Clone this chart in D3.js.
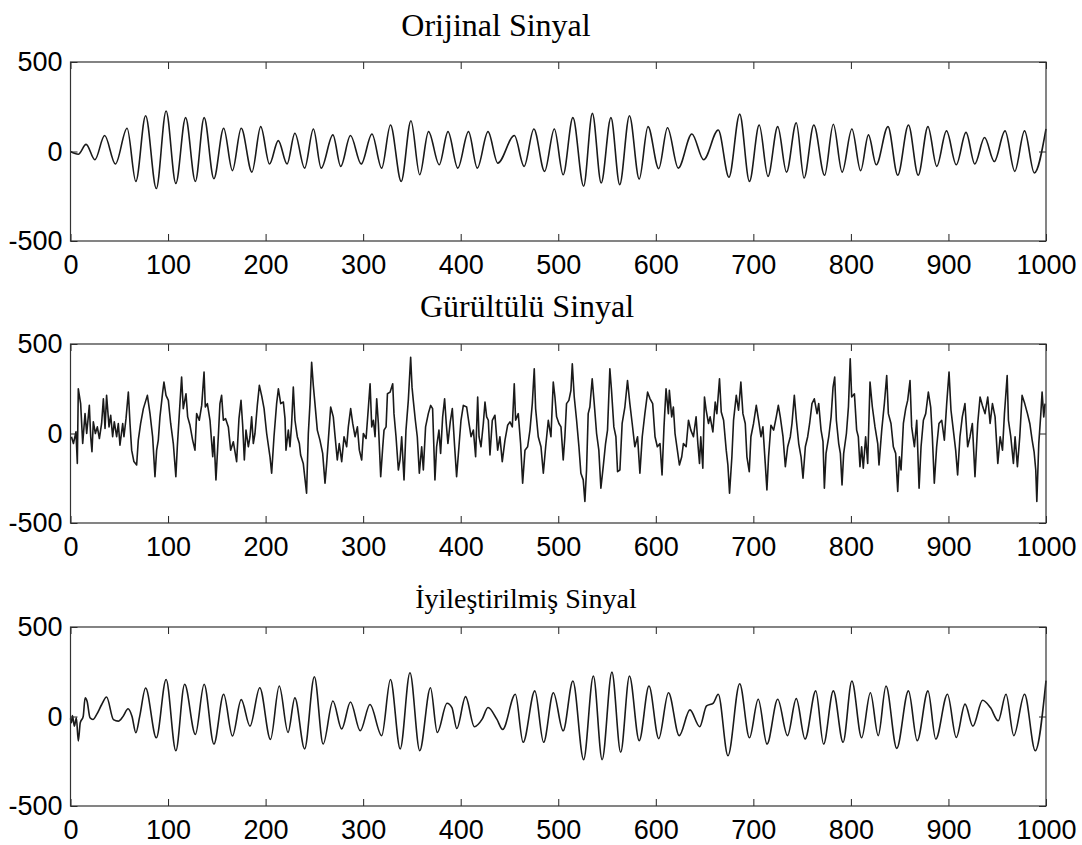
<!DOCTYPE html>
<html lang="tr">
<head>
<meta charset="UTF-8">
<title>Sinyaller</title>
<script src="https://cdnjs.cloudflare.com/ajax/libs/d3/7.8.5/d3.min.js"></script>
<style>
    body { margin: 0; background: #fff; }
    .tick text { font-family: "Liberation Sans", Arial, sans-serif; font-size: 27px; fill: #000; }
    .tick line { stroke: #222; }
    .title { font-family: "Liberation Serif", "Times New Roman", serif; fill: #000; }
    .frame { fill: none; stroke: #333; stroke-width: 1.2; }
    .sig { fill: none; stroke: #1a1a1a; stroke-width: 1.6; stroke-linejoin: round; }
</style>
</head>
<body>
<svg id="main" width="1082" height="845"></svg>
<script>
// titles and tick labels
const titles = ['Orijinal Sinyal', 'Gürültülü Sinyal', 'İyileştirilmiş Sinyal'];
const xTicks = [0, 100, 200, 300, 400, 500, 600, 700, 800, 900, 1000];
const yTicks = [-500, 0, 500];

// original signal (peaks / troughs)
const origX = [0,8,16,25,35,46,58,67,77,88,98,108,118,128,137,147,157,166,175,186,
    195,204,213,222,230,240,249,257,269,277,287,298,309,319,328,339,349,358,367,378,
    387,397,408,417,428,438,455,465,475,486,496,505,515,526,535,544,554,563,573,583,
    592,603,612,623,637,649,664,675,686,696,706,715,725,734,744,752,762,773,782,791,
    801,810,818,826,838,848,859,869,879,888,898,908,918,927,937,947,958,968,978,988,1000];
const origY = [0,-15,40,-46,89,-70,130,-167,200,-207,226,-178,189,-167,189,-152,130,-107,130,-115,
    139,-70,61,-70,102,-93,126,-93,93,-83,89,-70,98,-93,148,-167,172,-130,111,-74,
    111,-93,111,-93,111,-65,89,-83,126,-111,126,-130,189,-194,213,-176,189,-185,200,-154,
    139,-96,133,-93,98,-46,120,-144,209,-167,148,-139,139,-115,161,-148,148,-133,152,-115,
    126,-107,93,-74,139,-133,148,-133,139,-83,115,-74,107,-70,78,-56,115,-111,115,-120,126];

// noisy signal
const noisyX = [1,3,5.6,7,8,10.4,12.5,14.9,16.6,19.3,20.7,22,23.4,25.5,27.5,29.6,31.9,33.7,35.4,37,
    39.5,41.2,43.2,44.9,47.3,49,50.7,53.5,54.8,56.9,59.3,61,62.7,65,67.8,69.5,71.9,74.7,78.8,81.5,
    84.2,86.6,88.3,90,91.7,94.5,95.8,97.9,100.3,102.7,105.4,108,109.5,112.2,113.9,115.6,118.4,120.1,122.5,125.2,
    127.6,129.3,132,134.5,136.9,138.2,140.3,143,145.8,147.1,149.1,151.5,153.2,154.9,156.7,159,161.8,164.2,166.9,170.3,
    172.7,174.8,176.5,178.2,179.9,182.3,184,185.7,187.4,189.1,191.5,193.6,196,198.4,201.1,204.5,206.2,208.6,211.3,213.1,
    215.5,218.2,219.9,220.9,223.3,225,226.7,228.4,230.1,232.5,234.6,235.9,238.6,242,243.8,245.5,247.2,248.9,250.6,253,
    255.7,258.5,260.9,262.6,264.3,266.7,269.4,271.1,273.5,275.5,278,280.4,283.1,284.8,287.2,289.3,291.7,294.1,296.1,298.5,
    300.2,303,305.4,307.1,308.8,310.5,312.2,313.9,315.6,318,320.1,321.4,323.5,324.9,327.6,330.3,331.6,333.7,336.1,337.8,
    339.5,341.9,343.9,346.3,348.7,350.1,351.4,353.5,355.5,357.6,360,361.7,364,366.8,369.2,371.2,373.6,375.3,377.7,379.4,
    381.5,383.5,385.2,386.9,389.3,391.4,393.8,395.8,398.2,400.3,402.7,406.1,408.5,410.6,413,415.3,417.4,418.8,420.8,423.2,
    424.9,426.6,428.3,430,432.4,435.1,437.9,440.2,442.6,445.4,448.1,450.5,452.9,454.9,456.3,459,461.4,463.5,465.9,468.6,
    471,473.4,475.4,476.8,479.5,482.3,484.7,487.1,489.8,492.5,494.9,496.6,498.3,500.7,502.8,505.1,506.8,508.5,510.9,513,
    514.4,516.4,518.8,521.2,523.2,525.6,527.3,529,530.7,532.4,534.8,536.9,539.3,541.6,543.7,546.1,548.5,550.5,552.9,554.6,
    557,559.1,560.8,563.2,565.5,568.3,571,573.4,575.8,578.5,581.3,583.7,586.1,588.8,591.6,594,596.8,599.2,601.6,604.3,
    606.4,608.4,610.5,612.9,613.9,616.3,618,619.7,622.1,624.2,626.6,628.3,631.1,633.5,635.9,638.6,641.3,643.1,644.8,646.1,
    648.2,649.9,651.6,654,655.7,658.5,660.9,662.6,665.3,667.1,669.5,672.2,673.9,675.6,678,679.7,682.5,684.8,687.2,689.3,
    691.7,693.4,695.8,697.5,700.2,703,705.4,707.8,709.8,712.2,713.9,715.6,718,720.8,723.5,725.6,727.6,730.4,732.8,735.2,
    737.9,739.6,742,744.1,746.5,748.9,750.9,753.3,755.7,757.7,760.1,762.5,765.3,767,769.4,771.4,772.8,774.5,777.3,779.7,
    781.7,783.4,785.1,787.5,789.2,790.9,792.6,795.4,797.5,799.3,800.8,803.6,805.9,807.6,809.3,811,812.7,815.1,817.2,819.6,
    822,824.7,827.5,828.8,831.6,834.3,836.7,838.4,841.1,843.5,845.9,848,849.7,851.4,853.8,856.2,858.2,860.6,862.3,865.1,
    867.5,869.9,871.9,874.3,876.7,879.4,881.8,883.5,885.5,887.9,890.3,893.1,895.8,898.2,900.6,902.6,905,907.4,909.4,911.8,
    914.2,916.9,919.7,922.1,924.5,927.2,930,932.4,934.8,937.5,940.3,942.7,945.1,947.8,950.6,953,955.4,957.4,960.2,961.5,
    963.9,966.6,968.3,970.7,973.1,975.5,978.2,981,983.4,985.8,987.8,989.5,990.6,992.6,994.7,996,997.7,999];
const noisyY = [-18,-56,9,-167,250,167,-56,111,0,157,-18,-102,65,0,37,-28,56,194,28,213,
    37,102,-18,65,-18,56,-65,56,-18,83,231,56,-93,-157,-176,-37,56,139,213,111,
    -18,-241,-93,-37,93,231,287,213,185,56,-56,-241,-74,167,315,139,222,93,46,-37,
    -93,111,74,157,343,148,167,74,-130,-18,-259,-18,167,213,74,83,37,-93,-46,-157,
    83,185,46,-148,19,-74,-18,93,-56,0,157,269,210,140,0,-130,-222,-18,167,250,
    167,176,83,-93,19,-74,56,259,74,-18,-56,-120,-167,-333,0,167,398,269,167,19,
    -37,-111,-278,-167,-37,148,93,-9,-148,-56,-157,-18,-74,37,139,56,-18,37,-93,-148,
    0,-28,148,278,37,74,-18,194,56,-241,-74,19,37,222,231,278,111,-18,-204,-148,
    -18,-259,19,185,426,259,185,74,-18,-222,-74,-204,37,111,157,139,-259,-74,19,-111,
    93,194,56,-56,65,139,-74,-241,-74,74,157,148,56,-18,19,-130,204,-18,-74,56,
    176,93,74,-120,74,102,-93,-18,-157,-37,46,65,37,278,74,111,-56,-278,-93,-74,
    19,167,361,139,-18,-74,-222,-74,74,-18,287,204,93,56,37,-148,-18,167,185,241,
    389,204,74,-74,-222,-259,-380,-204,111,148,306,167,0,-93,-306,-185,-56,19,361,241,
    37,-18,-213,-204,56,148,296,167,56,-74,-18,-222,-18,111,231,195,167,-18,-74,-56,
    -231,37,250,111,241,93,148,0,-93,-176,-130,-56,-74,74,19,-18,93,-56,-167,-18,
    -194,204,130,56,93,9,176,111,306,120,74,-93,-176,-333,-130,74,213,130,287,111,
    56,-130,-213,-18,56,157,74,-18,37,-167,-315,-130,46,19,93,157,93,-18,-185,-74,
    -18,56,213,74,-56,-130,-250,-74,-18,56,167,194,111,167,19,-46,-306,-111,-18,93,
    259,315,74,-56,-111,-287,-111,0,150,417,204,222,19,-18,-185,-74,-194,-18,-167,287,
    148,37,-56,-176,19,167,324,111,56,-74,-111,-324,-130,-204,56,139,185,296,37,-74,
    74,-306,-74,74,111,231,148,-18,-278,-74,56,74,-37,167,343,130,19,-93,-231,-18,
    93,167,-74,-18,56,-241,56,204,157,111,204,56,167,93,-167,-18,-93,111,324,74,
    -18,-167,-18,-185,-18,213,167,111,56,-37,-102,-204,-380,-56,111,231,93,167];

// enhanced signal
const enhX = [0,1,2,4,6,8,10,13,15,17,20,23,27,32,37,44,49,54,59,63,
    67,71,77,88,98,108,117,128,137,147,157,166,175,184,194,205,214,223,230,240,
    250,259,269,278,287,297,307,319,328,338,348,358,369,376,386,391,396,405,414,422,
    428,437,443,456,464,476,485,495,505,515,526,536,545,555,564,573,583,593,603,613,
    624,635,645,652,659,664,674,686,696,705,714,725,735,744,753,764,772,782,792,801,
    811,820,828,836,847,859,868,879,887,899,908,917,925,935,943,951,959,967,978,989,1000];
const enhY = [-10,-35,6,-54,-7,-137,-35,0,104,85,-7,-17,13,67,109,-17,-26,2,43,2,
    -91,2,159,-119,207,-191,180,-100,180,-154,124,-109,94,-54,161,-128,170,-89,104,-181,
    222,-154,87,-70,81,-80,67,-107,207,-181,244,-191,161,-89,74,50,-67,111,-57,-15,
    50,-15,-72,124,-144,143,-144,133,-80,198,-241,226,-241,248,-200,226,-135,170,-124,133,
    -107,37,-57,59,75,124,-219,183,-119,96,-154,96,-107,100,-126,143,-154,143,-144,198,
    -119,133,-107,170,-178,143,-135,143,-126,124,-117,69,-54,91,50,-24,124,-107,124,-191,200];

const svg = d3.select('svg#main');
const left = 70.5, right = 1046, plotH = 179;
const panelTops = [62, 344, 627];
const titlePos = [[496, 36], [527, 317], [526, 608]];
const titleSize = [32, 32, 28];

const panels = [
    {title: titles[0], xs: origX, ys: origY, curve: d3.curveMonotoneX},
    {title: titles[1], xs: noisyX, ys: noisyY, curve: d3.curveLinear},
    {title: titles[2], xs: enhX, ys: enhY, curve: d3.curveMonotoneX}
];

const x = d3.scaleLinear().domain([0, 1000]).range([left, right]);
const fmt = function(d) { return String(d); };

panels.forEach(function(p, i) {
    const top = panelTops[i];
    const y = d3.scaleLinear().domain([-500, 500]).range([top + plotH, top]);
    const g = svg.append('g');

    // signal
    const pts = p.xs.map(function(d, k) { return [d, p.ys[k]]; });
    const line = d3.line()
        .x(function(d) { return x(d[0]); })
        .y(function(d) { return y(d[1]); })
        .curve(p.curve);
    g.append('path').attr('class', 'sig').attr('d', line(pts));

    // axes, ticks pointing inward
    g.append('g').attr('transform', 'translate(0,' + (top + plotH) + ')')
        .call(d3.axisBottom(x).tickValues(xTicks).tickFormat(fmt)
            .tickSizeInner(-7).tickSizeOuter(0).tickPadding(14));
    g.append('g').attr('transform', 'translate(0,' + top + ')')
        .call(d3.axisTop(x).tickValues(xTicks).tickSizeInner(-7).tickSizeOuter(0).tickFormat(''));
    g.append('g').attr('transform', 'translate(' + left + ',0)')
        .call(d3.axisLeft(y).tickValues(yTicks).tickFormat(fmt)
            .tickSizeInner(-7).tickSizeOuter(0).tickPadding(8));
    g.append('g').attr('transform', 'translate(' + right + ',0)')
        .call(d3.axisRight(y).tickValues(yTicks).tickSizeInner(-7).tickSizeOuter(0).tickFormat(''));
    g.selectAll('.domain').remove();

    g.append('rect').attr('class', 'frame')
        .attr('x', left).attr('y', top)
        .attr('width', right - left).attr('height', plotH);

    svg.append('text').attr('class', 'title')
        .attr('x', titlePos[i][0]).attr('y', titlePos[i][1])
        .attr('text-anchor', 'middle')
        .style('font-size', titleSize[i] + 'px')
        .text(p.title);
});
</script>
</body>
</html>
